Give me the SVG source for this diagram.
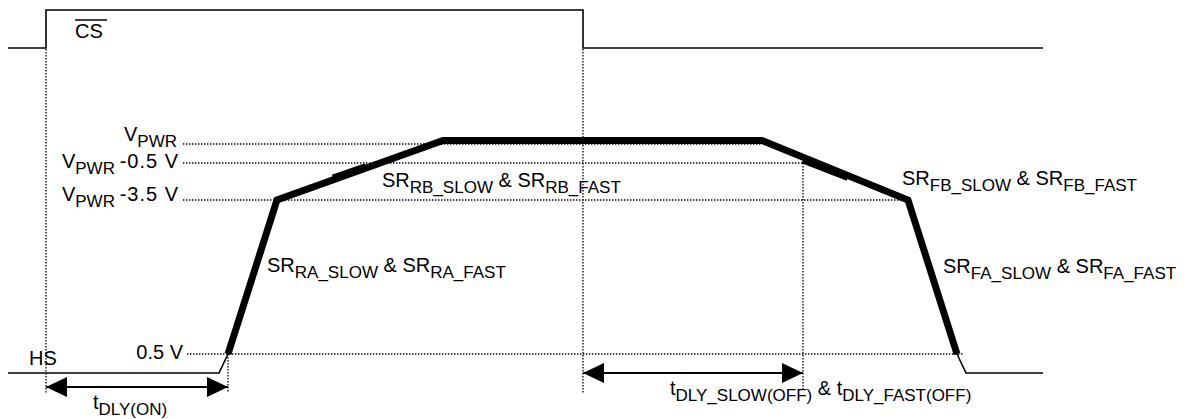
<svg xmlns="http://www.w3.org/2000/svg" width="1191" height="419" viewBox="0 0 1191 419">
<defs>
<style>
.sig{fill:none;stroke:#000;stroke-width:1.6;stroke-linejoin:miter}
.thick{fill:none;stroke:#000;stroke-width:7;stroke-linejoin:miter;stroke-linecap:butt}
.dot{fill:none;stroke:#000;stroke-width:1.3;stroke-dasharray:1.4 1.6}
.dim{fill:none;stroke:#000;stroke-width:2}
text{font-family:"Liberation Sans",Arial,sans-serif;font-size:20px;fill:#000}
.sub{font-size:17px}
.wide{letter-spacing:1px}
</style>
<marker id="ah" markerUnits="userSpaceOnUse" markerWidth="21" markerHeight="20" refX="21" refY="10" orient="auto-start-reverse" viewBox="0 0 21 20">
<path d="M0,0 L21,10 L0,20 Z" fill="#000"/>
</marker>
</defs>
<rect width="1191" height="419" fill="#fff"/>

<g id="guides">
<line class="dot" x1="46" y1="49" x2="46" y2="393"/>
<line class="dot" x1="228" y1="354" x2="228" y2="393"/>
<line class="dot" x1="583" y1="49" x2="583" y2="393"/>
<line class="dot" x1="803" y1="163" x2="803" y2="390"/>
<line class="dot" x1="183" y1="144" x2="762" y2="144"/>
<line class="dot" x1="183" y1="163" x2="803" y2="163"/>
<line class="dot" x1="183" y1="200" x2="908" y2="200"/>
<line class="dot" x1="187" y1="354" x2="963" y2="354"/>
</g>

<g id="cs-signal">
<polyline class="sig" points="8,48 46,48 46,10 583,10 583,48 1043,48"/>
</g>

<g id="hs-signal">
<polyline class="sig" points="8,373 219,373 228,354"/>
<polyline class="thick" points="228,354 277,200 443,140.5 762,140.5 908,200 957,354"/>
<line class="thick" x1="333" y1="178" x2="366" y2="166.5" stroke-width="8.5"/>
<line class="thick" x1="803" y1="160" x2="848" y2="177.5" stroke-width="8.5"/>
<polyline class="sig" points="957,354 966,373 1043,373"/>
</g>

<g id="connectors">
<line class="dim" x1="46" y1="387" x2="228" y2="387" marker-start="url(#ah)" marker-end="url(#ah)"/>
<line class="dim" x1="583" y1="373" x2="803" y2="373" marker-start="url(#ah)" marker-end="url(#ah)"/>
</g>

<g id="labels">
<text x="75" y="38">CS</text>
<line x1="75" y1="20" x2="107" y2="20" stroke="#000" stroke-width="1.5"/>
<text x="29" y="365">HS</text>
<text x="183" y="359" text-anchor="end">0.5 V</text>
<text x="177" y="141" text-anchor="end">V<tspan class="sub" dy="6">PWR</tspan></text>
<text x="179" y="168" text-anchor="end">V<tspan class="sub" dy="6">PWR </tspan><tspan class="wide" dy="-6">-0.5 V</tspan></text>
<text x="179" y="201" text-anchor="end">V<tspan class="sub" dy="6">PWR </tspan><tspan class="wide" dy="-6">-3.5 V</tspan></text>
<text x="267" y="272">SR<tspan class="sub" dy="6">RA_SLOW</tspan><tspan dy="-6"> &amp; SR</tspan><tspan class="sub" dy="6">RA_FAST</tspan></text>
<text x="382" y="187">SR<tspan class="sub" dy="6">RB_SLOW</tspan><tspan dy="-6"> &amp; SR</tspan><tspan class="sub" dy="6">RB_FAST</tspan></text>
<text x="902" y="185">SR<tspan class="sub" dy="6">FB_SLOW</tspan><tspan dy="-6"> &amp; SR</tspan><tspan class="sub" dy="6">FB_FAST</tspan></text>
<text x="943" y="273">SR<tspan class="sub" dy="6">FA_SLOW</tspan><tspan dy="-6"> &amp; SR</tspan><tspan class="sub" dy="6">FA_FAST</tspan></text>
<text x="93" y="409">t<tspan class="sub" dy="6">DLY(ON)</tspan></text>
<text x="670" y="395">t<tspan class="sub" dy="6">DLY_SLOW(OFF)</tspan><tspan dy="-6"> &amp; t</tspan><tspan class="sub" dy="6">DLY_FAST(OFF)</tspan></text>
</g>
</svg>
